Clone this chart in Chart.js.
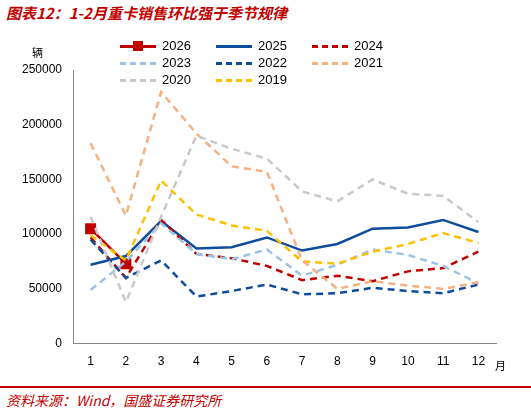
<!DOCTYPE html><html><head><meta charset="utf-8">
<script src="https://cdn.jsdelivr.net/npm/chart.js"></script>
<style>
body{margin:0;width:531px;height:414px;background:#fff;font-family:"Noto Sans CJK SC",sans-serif;position:relative;overflow:hidden}
#t{position:absolute;left:6px;top:2px;color:#c00000;font-size:15px;font-weight:bold;font-style:italic}
#s{position:absolute;left:6px;top:390px;color:#c00000;font-size:14px;font-style:italic}
#ln{position:absolute;left:0;top:386px;width:531px;height:2px;background:#c00000}
#wrap{position:absolute;left:0;top:30px;width:531px;height:350px}
#lg{position:absolute;left:120px;top:38px;font-family:Arial,"Liberation Sans";font-size:13px;color:#000}
.it{position:absolute;white-space:nowrap}
.sw{display:inline-block;width:36px;height:0;vertical-align:middle;margin-right:6px}
#u{position:absolute;left:32px;top:44px;font-size:11px}
#m{position:absolute;left:495px;top:357px;font-size:11px}
</style></head><body>
<div id="t">图表12：1-2月重卡销售环比强于季节规律</div>
<div id="wrap"><canvas id="c" width="531" height="350"></canvas></div>
<div id="lg"></div>
<div id="u">辆</div><div id="m">月</div>
<div id="ln"></div>
<div id="s">资料来源：Wind，国盛证券研究所</div>
<script>
const months=['1','2','3','4','5','6','7','8','9','10','11','12'];
const y2026=[105000,73000];
const y2025=[72000,80000,112000,87000,88000,97000,85000,91000,105000,106000,113000,102000];
const y2024=[97000,60000,113000,82000,78000,71000,58000,62000,57000,66000,69000,84000];
const y2023=[49000,75000,110000,82000,77000,86000,62000,72000,86000,81000,71000,55000];
const y2022=[95000,60000,76000,43000,48000,54000,45000,46000,51000,48000,46000,54000];
const y2021=[183000,117000,230000,192000,162000,157000,76000,50000,57000,53000,50000,56000];
const y2020=[116000,38000,116000,190000,178000,169000,139000,130000,150000,137000,135000,111000];
const y2019=[99000,76000,149000,118000,108000,103000,75000,73000,84000,91000,101000,92000];
const series=[
['2020',y2020,'#c9c9c9',true],['2021',y2021,'#f4b183',true],['2019',y2019,'#ffc000',true],
['2022',y2022,'#0e4c9c',true],['2023',y2023,'#9dc3e6',true],['2024',y2024,'#c00000',true],
['2025',y2025,'#0e4c9c',false],['2026',y2026,'#c00000',false]];
const ds=series.map(([l,d,c,dash])=>({label:l,data:d,borderColor:c,backgroundColor:c,borderWidth:2.5,
 borderDash:dash?[7,5]:[],pointRadius:l==='2026'?6:0,pointStyle:'rect',tension:0,fill:false}));
new Chart(document.getElementById('c'),{type:'line',data:{labels:months,datasets:ds},
options:{responsive:false,animation:false,devicePixelRatio:1,
layout:{padding:{left:10,right:35,top:40,bottom:8}},
plugins:{legend:{display:false},tooltip:{enabled:false}},
scales:{x:{offset:true,grid:{display:false},border:{color:'#888'},ticks:{maxRotation:0,autoSkip:false,color:'#000',font:{size:12,family:'Arial'}}},
y:{min:0,max:250000,afterFit:s=>{s.width=63},ticks:{stepSize:50000,callback:v=>String(v),color:'#000',font:{size:12,family:'Arial'}},grid:{display:false},border:{color:'#888'}}}}});
const order=[['2026','#c00000',0,1],['2025','#0e4c9c',0,0],['2024','#c00000',1,0],['2023','#9dc3e6',1,0],['2022','#0e4c9c',1,0],['2021','#f4b183',1,0],['2020','#c9c9c9',1,0],['2019','#ffc000',1,0]];
const lg=document.getElementById('lg');
order.forEach(([l,c,d,m],i)=>{const e=document.createElement('div');e.className='it';
e.style.left=(i%3)*96+'px';e.style.top=Math.floor(i/3)*17+'px';
e.innerHTML=`<span class="sw" style="border-top:3px ${d?'dashed':'solid'} ${c};position:relative">${m?`<span style="position:absolute;left:13px;top:-7px;width:10px;height:10px;background:${c}"></span>`:''}</span>${l}`;lg.appendChild(e);});
</script></body></html>
